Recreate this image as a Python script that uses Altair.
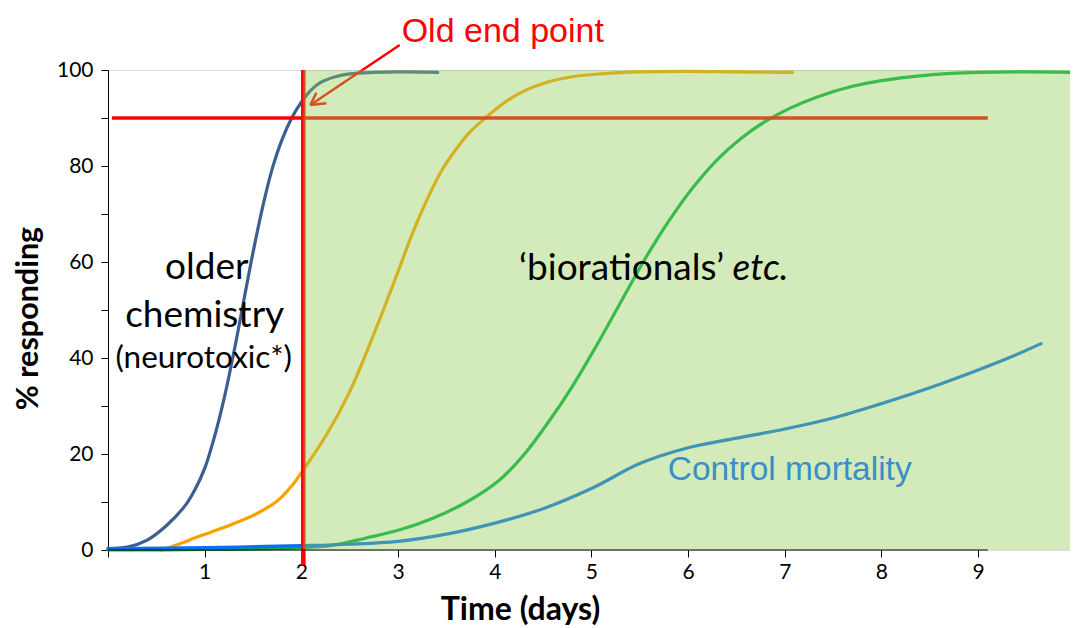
import altair as alt
import pandas as pd

# ---------------- data ----------------
neuro_day = [0.0, 0.2, 0.4, 0.6, 0.8, 0.9, 1.0, 1.1, 1.2, 1.3, 1.4, 1.5, 1.6, 1.7, 1.8, 1.9, 2.0, 2.1, 2.2, 2.35, 2.5, 2.75, 3.0, 3.41]
neuro_pct = [0.3, 0.6, 2.0, 5.0, 9.3, 12.6, 17.0, 23.5, 31.5, 41.0, 51.5, 62.0, 71.5, 79.5, 85.5, 90.0, 93.3, 95.8, 97.4, 98.6, 99.2, 99.5, 99.6, 99.5]

bio_day = [0.55, 0.7, 0.95, 1.29, 1.54, 1.75, 1.91, 2.02, 2.26, 2.5, 2.75, 3.0, 3.15, 3.3, 3.45, 3.6, 3.75, 3.92, 4.1, 4.3, 4.55, 4.8, 5.1, 5.5, 6.0, 6.5, 7.08]
bio_pct = [0.0, 1.0, 2.9, 5.4, 7.6, 10.2, 13.6, 16.7, 24.0, 33.0, 45.0, 58.0, 66.0, 73.0, 79.0, 83.5, 87.2, 90.3, 93.2, 95.6, 97.5, 98.6, 99.2, 99.6, 99.7, 99.6, 99.5]

green_day = [0.0, 1.0, 2.0, 2.33, 2.67, 3.02, 3.36, 3.71, 4.05, 4.3, 4.55, 4.8, 5.05, 5.3, 5.55, 5.8, 6.05, 6.3, 6.55, 6.8, 7.05, 7.35, 7.7, 8.0, 8.5, 9.0, 9.5, 9.95]
green_pct = [0.0, 0.1, 0.5, 1.0, 2.5, 4.2, 6.6, 10.0, 14.6, 19.8, 26.5, 34.0, 42.5, 51.5, 60.5, 68.5, 75.5, 81.3, 85.8, 89.3, 92.0, 94.5, 96.6, 97.8, 99.0, 99.5, 99.6, 99.5]

control_day = [0.0, 1.0, 2.0, 2.5, 3.0, 3.5, 4.0, 4.5, 5.0, 5.5, 6.0, 6.5, 7.0, 7.5, 8.0, 8.5, 9.0, 9.35, 9.65]
control_pct = [0.3, 0.5, 0.9, 1.2, 1.8, 3.3, 5.6, 8.6, 12.8, 18.0, 21.3, 23.3, 25.2, 27.5, 30.5, 33.8, 37.5, 40.3, 43.0]

x_ticks = [0, 1, 2, 3, 4, 5, 6, 7, 8, 9]
y_ticks = [0, 10, 20, 30, 40, 50, 60, 70, 80, 90, 100]

old_end_day = 2.02
threshold_pct = 90

# ---------------- scales / axes ----------------
xscale = alt.Scale(domain=[0, 9.95], nice=False, zero=False)
yscale = alt.Scale(domain=[0, 100], nice=False)

xaxis = alt.Axis(values=x_ticks, labelExpr="datum.value == 0 ? '' : datum.label",
                 domain=False, grid=False, tickSize=7, tickColor="black", tickWidth=1,
                 labelFontSize=21, labelFont="Lato", labelColor="black", labelPadding=4,
                 title="Time (days)", titleFont="Lato", titleFontSize=32, titleFontWeight="bold",
                 titleColor="black", titleX=412, titleY=69, titleAlign="center",
                 titleBaseline="alphabetic", titleAnchor="start")
yaxis = alt.Axis(values=y_ticks, labelExpr="datum.value % 20 == 0 ? datum.label : ''",
                 domain=True, domainColor="black", domainWidth=1, grid=False,
                 tickSize=7, tickColor="black", tickWidth=1,
                 labelFontSize=21, labelFont="Lato", labelColor="black", labelPadding=8,
                 title="% responding", titleFont="Lato", titleFontSize=30.5, titleFontWeight="bold",
                 titleColor="black", titleAngle=-90, titleX=-80, titleY=248,
                 titleAlign="center", titleBaseline="middle", titleAnchor="start")


def X(f):
    return alt.X(f"{f}:Q", scale=xscale, axis=xaxis)


def Y(f):
    return alt.Y(f"{f}:Q", scale=yscale, axis=yaxis)


layers = []

series = [
    (neuro_day, neuro_pct, "#3c5f91"),
    (bio_day, bio_pct, "#ffa000"),
    (green_day, green_pct, "#00b04a"),
    (control_day, control_pct, "#0a6ff5"),
]
for d, p, c in series:
    df = pd.DataFrame({"day": d, "pct": p})
    layers.append(alt.Chart(df).mark_line(color=c, strokeWidth=3.2, interpolate="catmull-rom",
                                          strokeCap="round").encode(x=X("day"), y=Y("pct")))

# threshold lines and arrow (under the overlay)
rules = pd.DataFrame({
    "x0": [0.04, old_end_day, 3.017, 2.093, 2.093],
    "x1": [9.1, old_end_day, 2.093, 2.259, 2.155],
    "y0": [threshold_pct, -3.1, 105.2, 92.7, 92.7],
    "y1": [threshold_pct, 100, 92.7, 93.06, 95.27],
    "w": [3.5, 4.5, 2.5, 2.5, 2.5],
})
layers.append(alt.Chart(rules).mark_rule(color="#ff0000", strokeCap="butt").encode(
    x=X("x0"), x2="x1", y=Y("y0"), y2="y1",
    strokeWidth=alt.StrokeWidth("w:Q", scale=None)))

# green translucent region
region = pd.DataFrame({"x0": [old_end_day], "x1": [9.95], "y0": [0], "y1": [100]})
layers.append(alt.Chart(region).mark_rect(color="#91cd52", opacity=0.4).encode(
    x=X("x0"), x2="x1", y=Y("y0"), y2="y1"))

# x axis line (partial)
axline = pd.DataFrame({"x0": [0], "x1": [9.1], "y0": [0]})
layers.append(alt.Chart(axline).mark_rule(color="black", strokeWidth=1.2).encode(
    x=X("x0"), x2="x1", y=Y("y0")))

# texts
def text_layer(rows, **kw):
    df = pd.DataFrame(rows, columns=["x", "y", "t"])
    return alt.Chart(df).mark_text(baseline="alphabetic", **kw).encode(
        x=X("x"), y=Y("y"), text="t:N")

layers.append(text_layer([(4.083, 105.8, "Old end point")], font="Liberation Sans",
                         fontSize=34, color="#ff0000", align="center"))
layers.append(text_layer([(1.022, 56.5, "older"), (1.0, 46.5, "chemistry")], font="Lato",
                         fontSize=37, color="black", align="center"))
layers.append(text_layer([(0.99, 38.0, "(neurotoxic*)")], font="Lato",
                         fontSize=31.5, color="black", align="center"))
layers.append(text_layer([(6.373, 56.3, "\u2018biorationals\u2019")], font="Lato",
                         fontSize=37, color="black", align="right"))
layers.append(text_layer([(6.46, 56.3, "etc.")], font="Lato", fontStyle="italic",
                         fontSize=37, color="black", align="left"))
layers.append(text_layer([(5.79, 14.6, "Control mortality")], font="Liberation Sans",
                         fontSize=33.5, color="#3b8fc6", align="left"))

chart = alt.layer(*layers).properties(
    width=962, height=480,
    autosize=alt.AutoSizeParams(type="none"),
    padding={"left": 100, "top": 62, "right": 0, "bottom": 78},
).configure_view(stroke=None).configure(background="white")

chart.save("out.html", embed_options={"renderer": "svg", "actions": False})
